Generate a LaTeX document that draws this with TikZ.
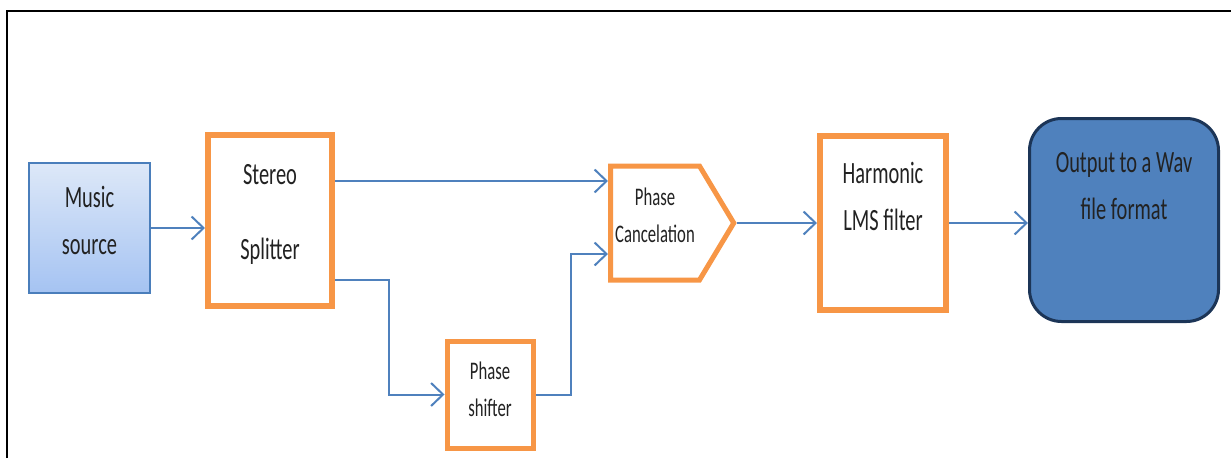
\documentclass[tikz,border=0pt]{standalone}
\usepackage{fontspec}
\setmainfont{Carlito}[FakeStretch=0.66]
\usetikzlibrary{arrows.meta,shapes.symbols}
\definecolor{boxorange}{HTML}{F79646}
\definecolor{flowblue}{HTML}{4F81BD}
\definecolor{srcline}{HTML}{4A7EBB}
\definecolor{srctop}{HTML}{DDE8F8}
\definecolor{srcbot}{HTML}{A5C3F2}
\definecolor{outfill}{HTML}{4F81BD}
\definecolor{outline}{HTML}{1C3557}
\definecolor{txt}{HTML}{222222}
\tikzset{
  bigtext/.style={align=center, text=txt, font=\fontsize{22}{33.4}\selectfont},
  smalltext/.style={align=center, text=txt, font=\fontsize{18}{26.3}\selectfont},
  obox/.style={draw=boxorange, line width=0.15cm, fill=white},
  flow/.style={draw=flowblue, line width=0.05cm, -{Straight Barb[length=0.3cm,width=0.575cm]}},
}
\begin{document}
\begin{tikzpicture}
    \useasboundingbox (0,0) rectangle (30.775,11.45);
    \draw [line width=0.05cm] (0.175,0) -- (0.175,11.175) -- (30.775,11.175);
    % blocks
    \node [bigtext, draw=srcline, line width=0.05cm, top color=srctop, bottom color=srcbot,
           minimum width=3.025cm, minimum height=3.25cm, text depth=0.4cm] (music) at (2.2375,5.75) {Music\\source};
    \node [obox, bigtext, minimum width=3.1cm, minimum height=4.275cm, text depth=0.45cm]
          (split) at (6.75,5.9375) {Stereo\\[20pt]Splitter};
    \node [obox, smalltext, line width=0.125cm, minimum width=2.15cm, minimum height=2.675cm, text depth=0.25cm]
          (shift) at (12.25,1.5875) {Phase\\shifter};
    \node [obox, smalltext, line width=0.125cm, signal, signal to=east, signal pointer angle=118,
           minimum width=3.025cm, minimum height=2.85cm, text depth=0.4cm, anchor=west] (cancel) at (15.2,5.875) {Phase\\Cancelation};
    \node [obox, bigtext, minimum width=3.15cm, minimum height=4.35cm, text depth=1.35cm]
          (harm) at (22.075,5.875) {Harmonic\\LMS filter};
    \node [bigtext, draw=outline, fill=outfill, line width=0.075cm, rounded corners=0.8cm,
           minimum width=4.725cm, minimum height=5.075cm, text depth=1.7cm] (out) at (28.1,5.95) {Output to a Wav\\file format};
    % connectors
    \coordinate (in1) at ([yshift=1.05cm]cancel.west);
    \coordinate (in2) at ([yshift=-0.775cm]cancel.west);
    \draw [flow] (music.east) -- (music.east -| split.west);
    \draw [flow] (split.east |- in1) -- (in1);
    \draw [flow] ([yshift=-1.4875cm]split.east) -- ++(1.35,0) |- (shift.west);
    \draw [flow] (shift.east) -- ++(0.875,0) |- (in2);
    \draw [flow] (cancel.east) -- (cancel.east -| harm.west);
    \draw [flow] (harm.east) -- (harm.east -| out.west);
\end{tikzpicture}
\end{document}
